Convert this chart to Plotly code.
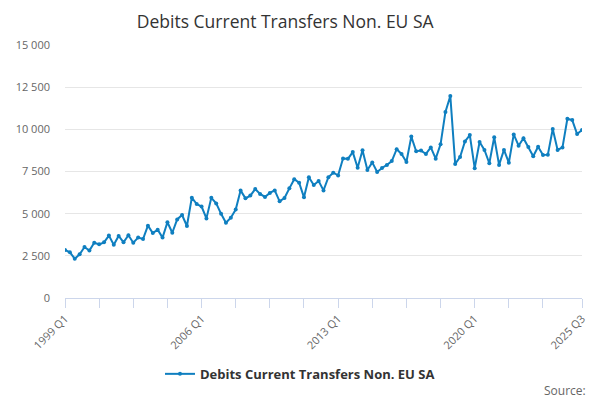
import plotly.graph_objects as go

# quarterly debits, 1999 Q1 .. 2025 Q3
years = list(range(1999, 2026))
quarters = [f'{y} Q{q}' for y in years for q in range(1, 5)][:107]

debits = [2850, 2710, 2330, 2590, 3020, 2810, 3280, 3180, 3300, 3700,
          3160, 3680, 3300, 3720, 3280, 3580, 3500, 4290, 3850, 4050,
          3580, 4490, 3870, 4660, 4920, 4270, 5950, 5570, 5420, 4720,
          5940, 5610, 4990, 4460, 4760, 5240, 6380, 5910, 6070, 6460,
          6170, 5990, 6230, 6380, 5730, 5930, 6500, 7040, 6840, 5970,
          7160, 6700, 6940, 6380, 7160, 7430, 7270, 8270, 8250, 8650,
          7720, 8760, 7590, 8040, 7470, 7710, 7890, 8120, 8820, 8540,
          8060, 9570, 8700, 8740, 8540, 8930, 8260, 9110, 11030, 11980,
          7950, 8360, 9280, 9660, 7700, 9250, 8780, 7990, 9530, 7890,
          8780, 8020, 9700, 9030, 9470, 8950, 8400, 8970, 8480, 8500,
          10020, 8780, 8930, 10630, 10550, 9720, 9960]

series_name = 'Debits Current Transfers Non. EU SA'
y_ticks = [0, 2500, 5000, 7500, 10000, 12500, 15000]

# tick every 7 quarters, label every 28, plus the final quarter
tick_idx = list(range(0, 99, 7)) + [106]
tick_vals = [quarters[i] for i in tick_idx]
tick_text = [quarters[i] if (i % 28 == 0 or i == 106) else '' for i in tick_idx]

fig = go.Figure()
fig.add_trace(go.Scatter(
    x=quarters, y=debits, name=series_name, mode='lines+markers',
    line=dict(color='#0f7fc0', width=2),
    marker=dict(size=4, color='#0f7fc0'),
))

# page has an 8px body margin, so offsets are pulled in by 8px
fig.update_layout(
    width=600, height=400,
    font=dict(family='Open Sans, DejaVu Sans, sans-serif', color='#666666'),
    separators='. ',
    title=dict(text=series_name, x=0.462, xanchor='center', y=0.966, yanchor='middle',
               font=dict(size=17.5, color='#333333')),
    paper_bgcolor='white', plot_bgcolor='white',
    margin=dict(l=57, r=26, t=37, b=110, autoexpand=False),
    showlegend=True,
    legend=dict(orientation='h', x=0.4545, xanchor='center', y=-0.30, yanchor='middle',
                font=dict(size=13, color='#333333', weight='bold')),
    annotations=[dict(text='Source:', xref='paper', yref='paper', x=1.012, y=-0.364,
                      xanchor='right', yanchor='middle', showarrow=False,
                      font=dict(size=12, color='#666666'))],
)

fig.update_xaxes(
    type='category', range=[0, 106], automargin=False,
    tickmode='array', tickvals=tick_vals, ticktext=tick_text,
    tickangle=-45, tickfont=dict(size=11, color='#666666'),
    ticks='outside', ticklen=9, tickcolor='#ccd6eb',
    showline=True, linecolor='#ccd6eb', linewidth=1,
    showgrid=False, zeroline=False,
)
fig.update_yaxes(
    range=[0, 15000], tickmode='array', tickvals=y_ticks, automargin=False,
    tickformat=',d', tickfont=dict(size=11, color='#666666'),
    showgrid=True, gridcolor='#e6e6e6', zeroline=False,
    ticklabelstandoff=14,
)

fig.write_html('out.html')
